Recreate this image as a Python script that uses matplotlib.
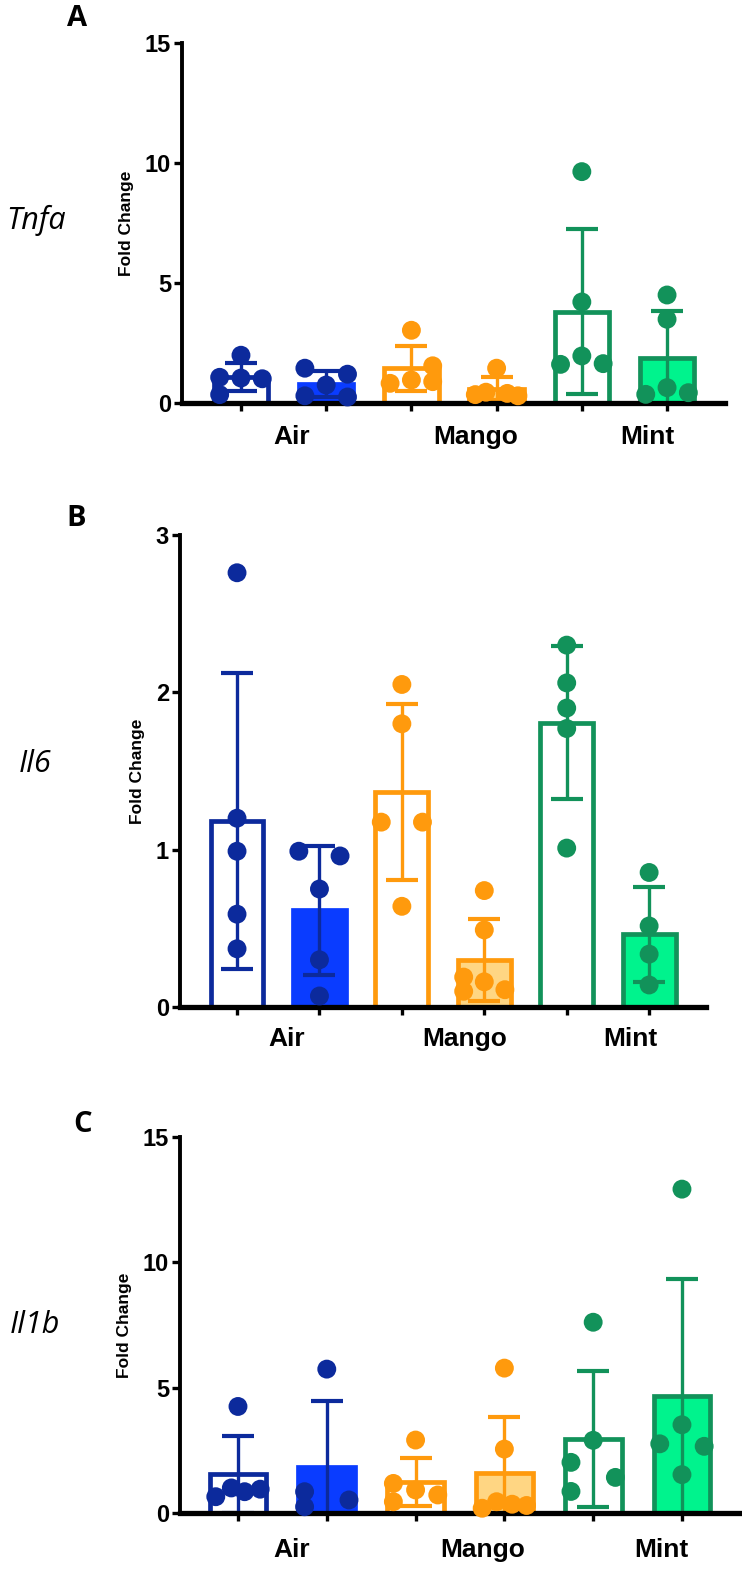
import numpy as np
import matplotlib
matplotlib.use("Agg")
import matplotlib.pyplot as plt

# groups and bars (open = first bar, filled = second bar of each group)
groups = ["Air", "Mango", "Mint"]
genes = ["Tnfa", "Il6", "Il1b"]
panel_letters = ["A", "B", "C"]

# individual fold-change values, 6 bars per gene (Air open, Air filled, Mango open, Mango filled, Mint open, Mint filled)
tnfa_pts = [
    [1.99, 1.07, 1.04, 1.01, 0.35],
    [1.45, 1.2, 0.75, 0.3, 0.25],
    [3.03, 1.55, 0.96, 0.89, 0.82],
    [1.45, 0.45, 0.4, 0.35, 0.3],
    [9.64, 4.21, 1.96, 1.64, 1.61],
    [4.5, 3.49, 0.64, 0.43, 0.36],
]
il6_pts = [
    [2.76, 1.2, 0.99, 0.59, 0.37],
    [0.99, 0.96, 0.75, 0.30, 0.07],
    [2.05, 1.80, 1.175, 1.175, 0.64],
    [0.74, 0.49, 0.19, 0.16, 0.11, 0.10],
    [2.30, 2.06, 1.90, 1.77, 1.01],
    [0.855, 0.515, 0.336, 0.14],
]
il1b_pts = [
    [4.25, 1.0, 0.95, 0.85, 0.65],
    [5.74, 0.85, 0.52, 0.25],
    [2.91, 1.18, 0.92, 0.72, 0.45],
    [5.78, 2.55, 0.45, 0.35, 0.3, 0.19],
    [7.61, 2.9, 2.02, 1.42, 0.86],
    [12.92, 3.52, 2.76, 2.66, 1.53],
]

# horizontal spread of the dots (in units of dot_spread)
tnfa_jit = [[0, -1, 0, 1, -1], [-1, 1, 0, -1, 1], [0, 1, 0, 1, -1],
            [0, -0.5, 0.5, -1, 1], [0, 0, 0, 1, -1], [0, 0, 0, 1, -1]]
il6_jit = [[0, 0, 0, 0, 0], [-1, 1, 0, 0, 0], [0, 0, -1, 1, 0],
           [0, 0, -1, 0, 1, -1], [0, 0, 0, 0, 0], [0, 0, 0, 0]]
il1b_jit = [[0, -0.3, 1, 0.3, -1], [0, -1, 1, -1], [0, -1, 0, 1, -1],
            [0, 0, -0.35, 0.35, 1, -1], [0, 0, -1, 1, -1], [0, 0, -1, 1, 0]]

yticks_all = [[0, 5, 10, 15], [0, 1, 2, 3], [0, 5, 10, 15]]

# colours
navy = "#0c2a9c"
blue = "#0a3cff"
orange = "#ff9a0d"
light_orange = "#ffd683"
green = "#12925a"
mint = "#00f38d"
dot_colors = [navy, navy, orange, orange, green, green]
edge_colors = [navy, blue, orange, orange, green, green]
face_colors = ["white", blue, "white", light_orange, "white", mint]
err_colors = [navy, navy, orange, orange, green, green]

W, H = 742, 1569
fig = plt.figure(figsize=(W / 100, H / 100), dpi=100)

# pixel boxes of the three axes: left, right, top, bottom
boxes = [(182, 725, 43, 403), (180, 706, 535, 1007), (180, 742, 1137, 1513)]
xlims = [(-0.692, 5.68), (-0.692, 5.69), (-0.653, 5.676)]
label_x = [0.6, 2.76, 4.77]
label_y = [-0.094, -0.068, -0.098]
gene_xy = [(36, 220), (35, 764), (35, 1325)]
letter_xy = [(77, 18), (76, 519), (83, 1125)]

tick_font = ["Liberation Sans", "DejaVu Sans"]
bar_w = 0.64
dot_spread = 0.25

all_pts = [tnfa_pts, il6_pts, il1b_pts]
all_jit = [tnfa_jit, il6_jit, il1b_jit]

for p in range(3):
    l, r, t, b = boxes[p]
    ax = fig.add_axes([l / W, 1 - b / H, (r - l) / W, (b - t) / H])
    pts = all_pts[p]
    jit = all_jit[p]
    xs = np.arange(6)
    means = [np.mean(v) for v in pts]
    sds = [np.std(v, ddof=1) for v in pts]

    for i in range(6):
        ax.bar(xs[i], means[i], width=bar_w, facecolor=face_colors[i],
               edgecolor=edge_colors[i], linewidth=3.4, zorder=2)
        ax.errorbar(xs[i], means[i], yerr=sds[i], fmt="none", ecolor=err_colors[i],
                    elinewidth=2.4, capsize=11.5, capthick=3.0, zorder=3)
        px = xs[i] + np.array(jit[i]) * dot_spread
        ax.scatter(px, pts[i], s=185, color=dot_colors[i], edgecolors="none",
                   zorder=5, clip_on=False)

    yt = yticks_all[p]
    ax.set_ylim(yt[0], yt[-1])
    ax.set_xlim(*xlims[p])
    ax.set_yticks(yt)
    ax.set_yticklabels([str(v) for v in yt], fontsize=17, fontweight="bold",
                       family=tick_font)
    ax.set_xticks(xs)
    ax.set_xticklabels([])
    ax.tick_params(axis="y", direction="out", length=6, width=2.4, pad=2)
    ax.tick_params(axis="x", direction="out", length=6, width=2.4)
    ax.spines["top"].set_visible(False)
    ax.spines["right"].set_visible(False)
    ax.spines["left"].set_linewidth(2.8)
    ax.spines["bottom"].set_linewidth(3.8)
    ax.spines["left"].set_zorder(4)
    ax.spines["bottom"].set_zorder(4)

    for g in range(3):
        ax.text(label_x[g], label_y[p], groups[g], transform=ax.get_xaxis_transform(),
                ha="center", va="center", fontsize=19, fontweight="bold", family=tick_font)

    ax.set_ylabel("Fold Change", fontsize=12.5, fontweight="bold", family=tick_font,
                  labelpad=8)

    gx, gy = gene_xy[p]
    fig.text(gx / W, 1 - gy / H, genes[p], ha="center", va="center", fontsize=22,
             style="italic", family=["Open Sans", "DejaVu Sans"])
    lx, ly = letter_xy[p]
    fig.text(lx / W, 1 - ly / H, panel_letters[p], ha="center", va="center", fontsize=21,
             fontweight="bold", family=["Open Sans", "DejaVu Sans"])

fig.savefig("out.png", dpi=100)
